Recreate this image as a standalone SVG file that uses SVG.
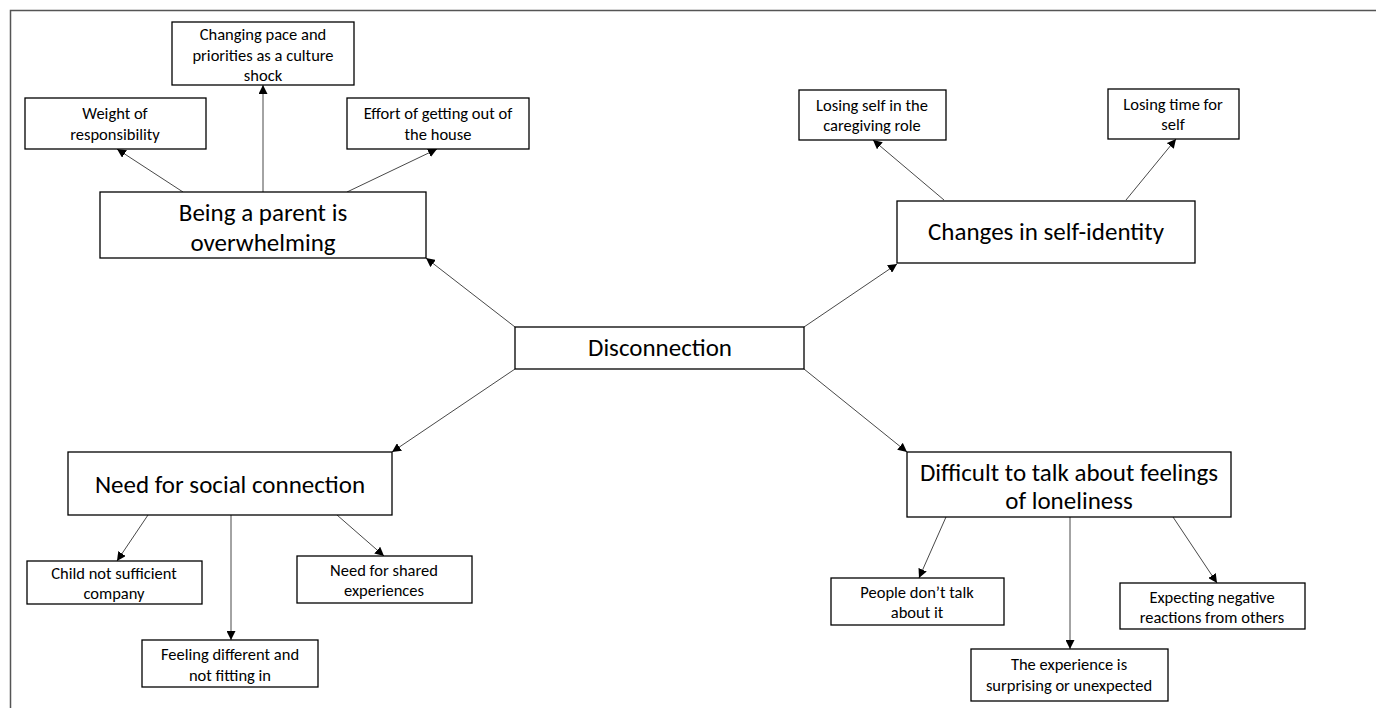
<svg xmlns="http://www.w3.org/2000/svg" width="1376" height="708" viewBox="0 0 1376 708">
<defs>
<marker id="ah" viewBox="0 0 10 10" refX="10" refY="5" markerWidth="9" markerHeight="9" markerUnits="userSpaceOnUse" orient="auto">
<path d="M0,0 L10,5 L0,10 z" fill="#000"/>
</marker>
<style>
.b{fill:#fff;stroke:#000;stroke-width:1.3}
.s{font-family:Carlito,Lato,"Liberation Sans",sans-serif;font-size:16.5px;fill:#000;text-anchor:middle}
.l{font-family:Carlito,Lato,"Liberation Sans",sans-serif;font-size:25px;fill:#000;text-anchor:middle}
.c line{stroke:#333;stroke-width:0.9;marker-end:url(#ah)}
.f{stroke:#555;stroke-width:1.5;fill:none}
</style>
</defs>
<rect width="1376" height="708" fill="#fff"/>
<path class="f" d="M10.5,708 V10.5 H1376"/>
<g class="c" id="connectors">
<line x1="515" y1="327" x2="426" y2="258"/>
<line x1="804" y1="327" x2="897" y2="264"/>
<line x1="515" y1="369" x2="392" y2="452"/>
<line x1="804" y1="369" x2="907" y2="452"/>
<line x1="183" y1="192" x2="117" y2="149"/>
<line x1="263" y1="192" x2="263" y2="85"/>
<line x1="347" y1="192" x2="437" y2="149"/>
<line x1="944" y1="200" x2="873" y2="140"/>
<line x1="1126" y1="200" x2="1176" y2="139"/>
<line x1="148" y1="515" x2="117" y2="561"/>
<line x1="231" y1="515" x2="231" y2="640"/>
<line x1="337" y1="515" x2="384" y2="556"/>
<line x1="946" y1="517" x2="919" y2="578"/>
<line x1="1070" y1="517" x2="1070" y2="649"/>
<line x1="1173" y1="517" x2="1217" y2="583"/>
</g>
<g id="n-disconnection"><rect class="b" x="515" y="327" width="289" height="42"/><text class="l" x="660" y="356">Disconnection</text></g>
<g id="n-parent"><rect class="b" x="100" y="192" width="326" height="66"/><text class="l" x="263" y="221">Being a parent is</text><text class="l" x="263" y="251">overwhelming</text></g>
<g id="n-weight"><rect class="b" x="25" y="98" width="181" height="51"/><text class="s" x="115" y="119">Weight of</text><text class="s" x="115" y="140">responsibility</text></g>
<g id="n-pace"><rect class="b" x="172" y="22" width="182" height="63"/><text class="s" x="263" y="40">Changing pace and</text><text class="s" x="263" y="61">priorities as a culture</text><text class="s" x="263" y="81">shock</text></g>
<g id="n-effort"><rect class="b" x="347" y="98" width="182" height="51"/><text class="s" x="438" y="119">Effort of getting out of</text><text class="s" x="438" y="140">the house</text></g>
<g id="n-identity"><rect class="b" x="897" y="201" width="298" height="62"/><text class="l" x="1046" y="240">Changes in self-identity</text></g>
<g id="n-losingself"><rect class="b" x="799" y="90" width="147" height="50"/><text class="s" x="872" y="111">Losing self in the</text><text class="s" x="872" y="131">caregiving role</text></g>
<g id="n-losingtime"><rect class="b" x="1108" y="89" width="131" height="50"/><text class="s" x="1173" y="110">Losing time for</text><text class="s" x="1173" y="130">self</text></g>
<g id="n-social"><rect class="b" x="68" y="452" width="324" height="63"/><text class="l" x="230" y="493">Need for social connection</text></g>
<g id="n-child"><rect class="b" x="27" y="561" width="175" height="43"/><text class="s" x="114" y="579">Child not sufficient</text><text class="s" x="114" y="599">company</text></g>
<g id="n-different"><rect class="b" x="142" y="640" width="176" height="47"/><text class="s" x="230" y="660">Feeling different and</text><text class="s" x="230" y="681">not fitting in</text></g>
<g id="n-shared"><rect class="b" x="297" y="556" width="175" height="47"/><text class="s" x="384" y="576">Need for shared</text><text class="s" x="384" y="596">experiences</text></g>
<g id="n-difficult"><rect class="b" x="907" y="452" width="324" height="65"/><text class="l" x="1069" y="481">Difficult to talk about feelings</text><text class="l" x="1069" y="509">of loneliness</text></g>
<g id="n-people"><rect class="b" x="831" y="578" width="173" height="47"/><text class="s" x="917" y="598">People don’t talk</text><text class="s" x="917" y="618">about it</text></g>
<g id="n-expecting"><rect class="b" x="1120" y="583" width="185" height="46"/><text class="s" x="1212" y="603">Expecting negative</text><text class="s" x="1212" y="623">reactions from others</text></g>
<g id="n-surprising"><rect class="b" x="971" y="649" width="197" height="52"/><text class="s" x="1069" y="670">The experience is</text><text class="s" x="1069" y="691">surprising or unexpected</text></g>
</svg>
